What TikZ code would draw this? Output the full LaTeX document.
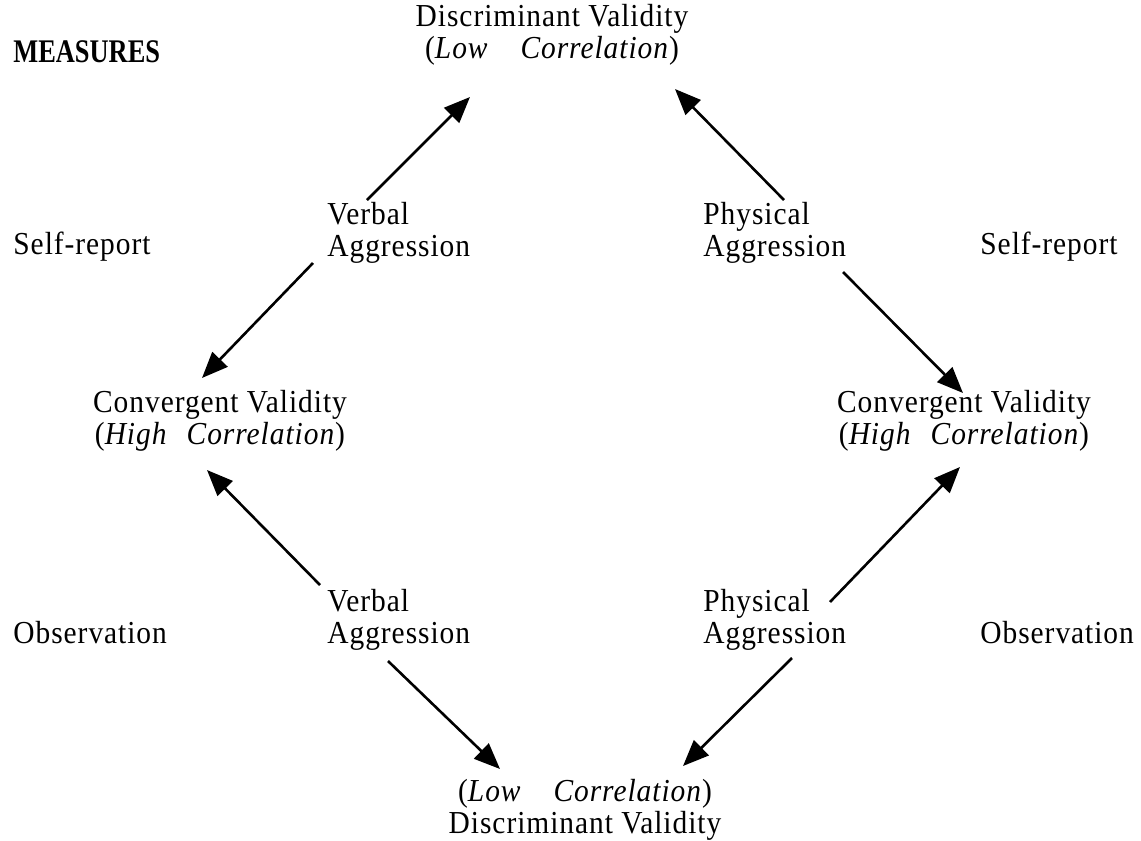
\documentclass[tikz,border=0pt]{standalone}
\usepackage{fontspec}
\setmainfont{Liberation Serif}[LetterSpace=3, FakeStretch=0.92]
\newfontfamily\headfont{Liberation Serif}[FakeStretch=0.8]
\usetikzlibrary{arrows.meta}

\tikzset{
  lbl/.style={inner sep=0pt, align=center, font=\fontsize{16}{16}\selectfont},
  lblleft/.style={lbl, align=left, anchor=west},
  pfeil/.style={line width=1.3pt, -{Triangle[length=13pt,width=10.5pt]}}
}

\begin{document}
\begin{tikzpicture}[x=0.5pt,y=-0.5pt]

	% Rahmen
	\useasboundingbox (0,0) rectangle (1141,841);

	% Ueberschrift
	\node[lblleft, font=\fontsize{16.5}{16}\headfont\bfseries] (measures) at (13,52) {MEASURES};

	% Zeilen links und rechts
	\node[lblleft] (selfl) at (13,247) {Self-report};
	\node[lblleft] (selfr) at (980,247) {Self-report};
	\node[lblleft] (obsl) at (13,633) {Observation};
	\node[lblleft] (obsr) at (980,633) {Observation};

	% Validitaeten
	\node[lbl] (dvtop) at (552,35) {Discriminant Validity\\(\textit{Low}\hspace{1em}\textit{Correlation})};
	\node[lbl] (dvbot) at (585,810) {(\textit{Low}\hspace{1em}\textit{Correlation})\\Discriminant Validity};
	\node[lbl] (cvl) at (220,421) {Convergent Validity\\(\textit{High}\hspace{0.6em}\textit{Correlation})};
	\node[lbl] (cvr) at (964,421) {Convergent Validity\\(\textit{High}\hspace{0.6em}\textit{Correlation})};

	% Aggressionsformen
	\node[lblleft] (verbsr) at (327,233) {Verbal\\Aggression};
	\node[lblleft] (physsr) at (703,233) {Physical\\Aggression};
	\node[lblleft] (verbob) at (327,620) {Verbal\\Aggression};
	\node[lblleft] (physob) at (703,620) {Physical\\Aggression};

	% Pfeilenden
	\coordinate (a1s) at (367,200); \coordinate (a1e) at (470,97);
	\coordinate (a2s) at (313,263); \coordinate (a2e) at (202,378);
	\coordinate (a3s) at (784,200); \coordinate (a3e) at (675,89);
	\coordinate (a4s) at (843,272); \coordinate (a4e) at (963,393);
	\coordinate (a5s) at (320,585); \coordinate (a5e) at (207,470);
	\coordinate (a6s) at (830,602); \coordinate (a6e) at (960,467);
	\coordinate (a7s) at (388,661); \coordinate (a7e) at (500,769);
	\coordinate (a8s) at (792,658); \coordinate (a8e) at (683,766);

	% Pfeile
	\draw[pfeil] (a1s) -- (a1e);
	\draw[pfeil] (a2s) -- (a2e);
	\draw[pfeil] (a3s) -- (a3e);
	\draw[pfeil] (a4s) -- (a4e);
	\draw[pfeil] (a5s) -- (a5e);
	\draw[pfeil] (a6s) -- (a6e);
	\draw[pfeil] (a7s) -- (a7e);
	\draw[pfeil] (a8s) -- (a8e);

\end{tikzpicture}
\end{document}
